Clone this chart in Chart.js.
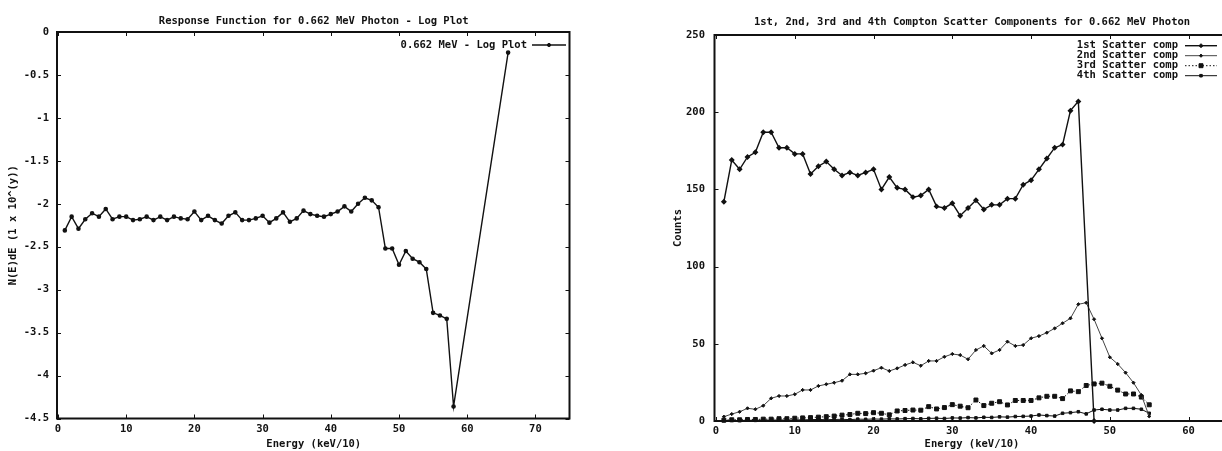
<!DOCTYPE html>
<html lang="de">
<head>
<meta charset="utf-8">
<title>Response Function / Compton Scatter</title>
<script src="https://cdn.jsdelivr.net/npm/chart.js@4.4.1/dist/chart.umd.min.js"></script>
<style>
  html, body { margin: 0; padding: 0; background: #fff; overflow: hidden; width: 1222px; height: 451px; }
  #logChart { position: absolute; left: 0; top: 0; }
  #scatterChart { position: absolute; left: 660px; top: 0; }
</style>
</head>
<body>
<canvas id="logChart" width="600" height="451"></canvas>
<canvas id="scatterChart" width="580" height="451"></canvas>
<script>
// Daten linkes Diagramm (Log-Plot der Response-Funktion)
const logEnergy = [1, 2, 3, 4, 5, 6, 7, 8, 9, 10, 11, 12, 13, 14, 15, 16, 17, 18, 19, 20,
  21, 22, 23, 24, 25, 26, 27, 28, 29, 30, 31, 32, 33, 34, 35, 36, 37, 38, 39, 40,
  41, 42, 43, 44, 45, 46, 47, 48, 49, 50, 51, 52, 53, 54, 55, 56, 57, 58, 66];
const logValues = [-2.31, -2.15, -2.29, -2.18, -2.11, -2.15, -2.06, -2.18, -2.15, -2.15,
  -2.19, -2.18, -2.15, -2.19, -2.15, -2.19, -2.15, -2.17, -2.18, -2.09,
  -2.19, -2.14, -2.19, -2.23, -2.14, -2.10, -2.19, -2.19, -2.17, -2.14,
  -2.22, -2.17, -2.10, -2.21, -2.17, -2.08, -2.12, -2.14, -2.15, -2.12,
  -2.09, -2.03, -2.09, -2.00, -1.93, -1.96, -2.04, -2.52, -2.52, -2.71,
  -2.55, -2.64, -2.68, -2.76, -3.27, -3.30, -3.34, -4.36, -0.24];
const logXTicks = [0, 10, 20, 30, 40, 50, 60, 70];
const logYTicks = [0, -0.5, -1, -1.5, -2, -2.5, -3, -3.5, -4, -4.5];

// Daten rechtes Diagramm (Compton-Streukomponenten)
const scatterEnergy = [1, 2, 3, 4, 5, 6, 7, 8, 9, 10, 11, 12, 13, 14, 15, 16, 17, 18, 19, 20,
  21, 22, 23, 24, 25, 26, 27, 28, 29, 30, 31, 32, 33, 34, 35, 36, 37, 38, 39, 40,
  41, 42, 43, 44, 45, 46, 47, 48, 49, 50, 51, 52, 53, 54, 55];
const firstScatter = [142, 169, 163, 171, 174, 187, 187, 177, 177, 173,
  173, 160, 165, 168, 163, 159, 161, 159, 161, 163,
  150, 158, 151, 150, 145, 146, 150, 139, 138, 141,
  133, 138, 143, 137, 140, 140, 144, 144, 153, 156,
  163, 170, 177, 179, 201, 207, null, 0];
const secondScatter = [2.8, 4.5, 6, 8.2, 7.6, 9.9, 14.7, 16.2, 16.2, 17.3,
  20.1, 20.1, 22.7, 23.8, 24.8, 26.1, 30.2, 30.2, 30.9, 32.6,
  34.5, 32.4, 34.1, 36.3, 38, 35.8, 38.9, 38.9, 41.6, 43.4,
  42.7, 40, 46, 48.6, 43.8, 46, 51.4, 48.6, 49.2, 53.6,
  55, 57.2, 60, 63.3, 66.5, 75.6, 76.6, 65.9, 53.6, 41.3,
  36.9, 31.3, 24.8, 16.8, 3];
const thirdScatter = [0.5, 0.8, 0.8, 1, 1, 1.2, 1.2, 1.5, 1.5, 1.8,
  2, 2.2, 2.5, 2.8, 3.2, 3.8, 4.2, 5, 4.8, 5.4,
  5, 4, 6.5, 6.8, 7.1, 7, 9.3, 7.8, 8.7, 10.6,
  9.6, 8.6, 13.6, 10, 11.5, 12.5, 10.4, 13.3, 13.3, 13.3,
  15, 16, 16, 14.5, 19.5, 19, 23, 24, 24.5, 22.5,
  20, 17.5, 17.5, 15.5, 10.5];
const fourthScatter = [0.3, 0.4, 0.3, 0.5, 0.4, 0.6, 0.5, 0.7, 0.6, 0.8,
  0.7, 0.9, 1, 0.8, 1, 1.1, 0.9, 1.2, 1.1, 1.3,
  1.2, 1.4, 1.3, 1.5, 1.6, 1.4, 1.7, 1.8, 1.6, 2,
  1.9, 2.2, 2, 2.4, 2.3, 2.7, 2.5, 2.9, 3, 3.2,
  3.9, 3.5, 3.2, 5, 5.4, 6, 4.6, 7.1, 7.6, 7.1,
  7.1, 8.2, 8.2, 7.6, 5];
const scatterXTicks = [0, 10, 20, 30, 40, 50, 60];
const scatterYTicks = [0, 50, 100, 150, 200, 250];

const schrift = '"DejaVu Sans Mono", "Liberation Mono", monospace';
Chart.defaults.font.family = schrift;
Chart.defaults.font.size = 10.5;
Chart.defaults.font.weight = 'bold';
Chart.defaults.color = '#111';

// Hilfsfunktion: Wertepaare fuer lineare x-Achse
function paare(xs, ys) {
  return xs.map((x, i) => ({ x: x, y: ys[i] === undefined ? null : ys[i] }))
           .filter(p => p.y !== null);
}

// Rahmen mit Tickmarken nach innen (gnuplot-Stil)
const rahmenPlugin = {
  id: 'rahmen',
  beforeDatasetsDraw(chart, args, opts) {
    const ctx = chart.ctx;
    const a = chart.chartArea;
    const x = chart.scales.x, y = chart.scales.y;
    const off = opts.offset || 0;
    const len = 4;
    ctx.save();
    ctx.strokeStyle = '#111';
    ctx.lineWidth = 2;
    ctx.strokeRect(a.left - off, a.top, a.right - a.left + off, a.bottom - a.top);
    ctx.lineWidth = 1;
    ctx.beginPath();
    x.ticks.forEach(t => {
      const px = Math.round(x.getPixelForValue(t.value)) + 0.5;
      ctx.moveTo(px, a.bottom); ctx.lineTo(px, a.bottom - len);
      ctx.moveTo(px, a.top); ctx.lineTo(px, a.top + len);
    });
    y.ticks.forEach(t => {
      const py = Math.round(y.getPixelForValue(t.value)) + 0.5;
      ctx.moveTo(a.left - off, py); ctx.lineTo(a.left - off + len, py);
      ctx.moveTo(a.right, py); ctx.lineTo(a.right - len, py);
    });
    ctx.stroke();
    ctx.restore();
  }
};

// Legende rechts oben im Plotbereich: Text rechtsbuendig, Linienmuster rechts daneben
const legendePlugin = {
  id: 'legende',
  afterDraw(chart, args, opts) {
    const ctx = chart.ctx;
    ctx.save();
    ctx.font = 'bold 10.5px ' + schrift;
    ctx.textAlign = 'right';
    ctx.textBaseline = 'middle';
    chart.data.datasets.forEach((ds, i) => {
      const y = opts.y + i * opts.rowHeight;
      ctx.fillStyle = '#111';
      ctx.fillText(ds.label, opts.textRight, y);
      ctx.strokeStyle = ds.borderColor;
      ctx.lineWidth = ds.borderWidth;
      ctx.setLineDash(ds.borderDash || []);
      ctx.beginPath();
      ctx.moveTo(opts.x1, y);
      ctx.lineTo(opts.x2, y);
      ctx.stroke();
      ctx.setLineDash([]);
      ctx.fillStyle = ds.pointBackgroundColor;
      ctx.strokeStyle = ds.pointBorderColor;
      ctx.lineWidth = 1;
      Chart.helpers.drawPoint(ctx, {
        pointStyle: ds.pointStyle, radius: ds.pointRadius, rotation: 0, borderWidth: 1
      }, (opts.x1 + opts.x2) / 2, y);
    });
    ctx.restore();
  }
};

function achse(min, max, tickWerte, groesse, extra) {
  return Object.assign({
    type: 'linear',
    min: min,
    max: max,
    grid: { display: false, drawTicks: false },
    border: { display: false },
    afterBuildTicks: s => { s.ticks = tickWerte.map(v => ({ value: v })); },
    afterFit: s => {
      if (s.isHorizontal()) { s.height = groesse; } else { s.width = groesse; }
    }
  }, extra);
}

// Linkes Diagramm
new Chart(document.getElementById('logChart'), {
  type: 'line',
  data: {
    datasets: [{
      label: '0.662 MeV - Log Plot',
      data: paare(logEnergy, logValues),
      borderColor: '#111',
      borderWidth: 1.4,
      pointStyle: 'circle',
      pointRadius: 1.6,
      pointBackgroundColor: '#111',
      pointBorderColor: '#111',
      tension: 0,
      clip: false
    }]
  },
  options: {
    responsive: false,
    animation: false,
    devicePixelRatio: 1,
    layout: { padding: { left: 0, right: 30.5, top: 0, bottom: 0 } },
    scales: {
      x: achse(0, 75, logXTicks, 32.5, {
        ticks: { padding: 4, maxRotation: 0, autoSkip: false, callback: v => String(v) },
        title: { display: true, text: 'Energy (keV/10)', padding: { top: 0, bottom: 0 } }
      }),
      y: achse(-4.5, 0, logYTicks, 58, {
        ticks: { padding: 9, autoSkip: false, callback: v => String(v) },
        title: { display: true, text: 'N(E)dE (1 x 10^(y))', padding: { top: 7, bottom: 0 } }
      })
    },
    plugins: {
      legend: { display: false },
      tooltip: { enabled: false },
      title: {
        display: true,
        fullSize: false,
        text: 'Response Function for 0.662 MeV Photon - Log Plot',
        padding: { top: 15, bottom: 4.4 }
      },
      rahmen: { offset: 1 },
      legende: { textRight: 527, x1: 532, x2: 566, y: 45, rowHeight: 10 }
    }
  },
  plugins: [rahmenPlugin, legendePlugin]
});

// Rechtes Diagramm
new Chart(document.getElementById('scatterChart'), {
  type: 'line',
  data: {
    datasets: [{
      label: '1st Scatter comp',
      data: paare(scatterEnergy, firstScatter),
      borderColor: '#111', borderWidth: 1.4,
      pointStyle: 'rectRot', pointRadius: 2,
      pointBackgroundColor: '#111', pointBorderColor: '#111',
      clip: false
    }, {
      label: '2nd Scatter comp',
      data: paare(scatterEnergy, secondScatter),
      borderColor: '#444', borderWidth: 1,
      pointStyle: 'rectRot', pointRadius: 1.6,
      pointBackgroundColor: '#111', pointBorderColor: '#111',
      clip: false
    }, {
      label: '3rd Scatter comp',
      data: paare(scatterEnergy, thirdScatter),
      borderColor: '#111', borderWidth: 1, borderDash: [1.5, 2],
      pointStyle: 'rect', pointRadius: 2.8,
      pointBackgroundColor: '#111', pointBorderColor: '#111',
      clip: false
    }, {
      label: '4th Scatter comp',
      data: paare(scatterEnergy, fourthScatter),
      borderColor: '#111', borderWidth: 1,
      pointStyle: 'rect', pointRadius: 1.8,
      pointBackgroundColor: '#111', pointBorderColor: '#111',
      clip: false
    }]
  },
  options: {
    responsive: false,
    animation: false,
    devicePixelRatio: 1,
    layout: { padding: { left: 0, right: 12, top: 0, bottom: 0 } },
    scales: {
      x: achse(0, 65, scatterXTicks, 30, {
        ticks: { padding: 4, maxRotation: 0, autoSkip: false, callback: v => String(v) },
        title: { display: true, text: 'Energy (keV/10)', padding: { top: 0, bottom: 0 } }
      }),
      y: achse(0, 250, scatterYTicks, 56, {
        ticks: { padding: 11, autoSkip: false, callback: v => String(v) },
        title: { display: true, text: 'Counts', padding: { top: 12, bottom: 0 } }
      })
    },
    plugins: {
      legend: { display: false },
      tooltip: { enabled: false },
      title: {
        display: true,
        fullSize: false,
        text: '1st, 2nd, 3rd and 4th Compton Scatter Components for 0.662 MeV Photon',
        padding: { top: 16, bottom: 6.4 }
      },
      rahmen: { offset: 1.5 },
      legende: { textRight: 518, x1: 525, x2: 557, y: 45.7, rowHeight: 10 }
    }
  },
  plugins: [rahmenPlugin, legendePlugin]
});
</script>
</body>
</html>
